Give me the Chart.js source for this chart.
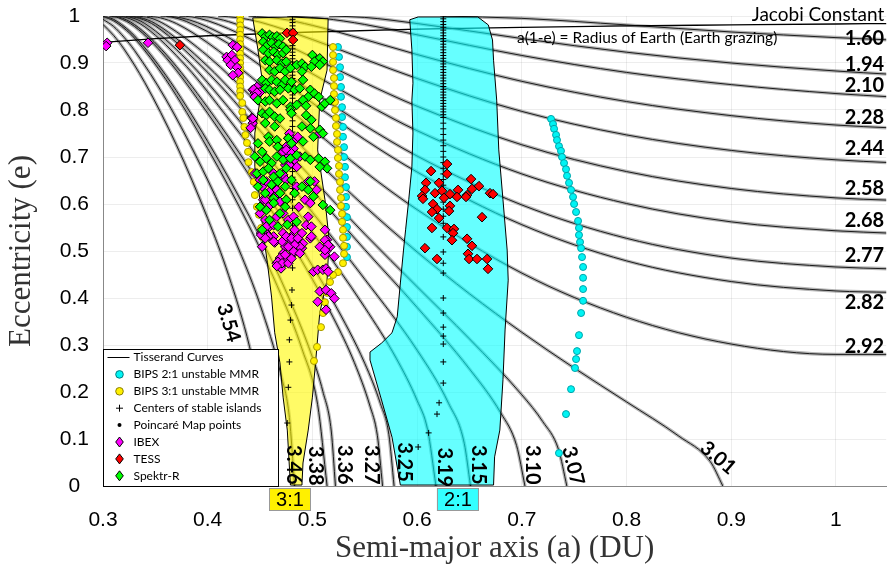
<!DOCTYPE html>
<html>
<head>
<meta charset="utf-8">
<script src="https://cdn.jsdelivr.net/npm/chart.js@4.4.1/dist/chart.umd.min.js"></script>
<style>
  html, body { margin: 0; padding: 0; background: #fff; }
  #wrap { width: 892px; height: 569px; }
</style>
</head>
<body>
<div id="wrap"><canvas id="chart" width="892" height="569"></canvas></div>
<script>
// Tisserand curves, [semi-major axis, eccentricity]
const jacobiValues = ["1.60", "1.94", "2.10", "2.28", "2.44", "2.58", "2.68", "2.77", "2.82", "2.92",
  "3.01", "3.07", "3.10", "3.15", "3.19", "3.25", "3.27", "3.36", "3.38", "3.46", "3.54"];

const curve160 = [[0.625,1],[0.7,0.995],[0.8,0.981],[0.9,0.966],[1.0,0.954],[1.052,0.949]];
const curve194 = [[0.516,1],[0.55,0.997],[0.6,0.984],[0.7,0.952],[0.8,0.923],[0.9,0.900],[1.0,0.883],[1.052,0.876]];
const curve210 = [[0.476,1],[0.51,0.995],[0.55,0.982],[0.6,0.960],[0.7,0.916],[0.8,0.880],[0.9,0.854],[1.0,0.835],[1.052,0.828]];
const curve228 = [[0.439,1],[0.47,0.994],[0.5,0.980],[0.55,0.950],[0.6,0.918],[0.7,0.861],[0.8,0.818],[0.9,0.788],[1.0,0.768],[1.052,0.762]];
const curve244 = [[0.410,1],[0.43,0.996],[0.45,0.987],[0.5,0.950],[0.55,0.908],[0.6,0.867],[0.7,0.797],[0.8,0.747],[0.9,0.714],[1.0,0.694],[1.052,0.688]];
const curve258 = [[0.388,1],[0.4,0.998],[0.42,0.988],[0.46,0.954],[0.5,0.912],[0.55,0.858],[0.6,0.808],[0.7,0.726],[0.8,0.669],[0.9,0.633],[1.0,0.613],[1.052,0.608]];
const curve268 = [[0.373,1],[0.385,0.998],[0.4,0.990],[0.44,0.952],[0.5,0.877],[0.55,0.814],[0.6,0.756],[0.7,0.664],[0.8,0.601],[0.9,0.562],[1.0,0.543],[1.052,0.538]];
const curve277 = [[0.361,1],[0.375,0.996],[0.39,0.986],[0.42,0.954],[0.46,0.898],[0.5,0.839],[0.55,0.767],[0.6,0.702],[0.7,0.598],[0.8,0.527],[0.9,0.485],[1.0,0.466],[1.052,0.462]];
const curve282 = [[0.355,1],[0.365,0.998],[0.38,0.988],[0.42,0.941],[0.46,0.879],[0.5,0.815],[0.55,0.737],[0.6,0.668],[0.7,0.556],[0.8,0.479],[0.9,0.435],[1.0,0.415],[1.052,0.412]];
const curve292 = [[0.342,1],[0.355,0.996],[0.37,0.984],[0.4,0.943],[0.44,0.873],[0.5,0.760],[0.55,0.669],[0.6,0.588],[0.7,0.453],[0.8,0.359],[0.9,0.302],[1.0,0.280],[1.052,0.280]];
const curve301 = [[0.332,1],[0.345,0.996],[0.36,0.981],[0.4,0.915],[0.45,0.810],[0.5,0.700],[0.55,0.595],[0.6,0.498],[0.65,0.409],[0.7,0.327],[0.75,0.251],[0.8,0.179],[0.85,0.106],[0.88,0.052],[0.892,0]];
const curve307 = [[0.326,1],[0.335,0.997],[0.35,0.984],[0.4,0.893],[0.45,0.775],[0.5,0.654],[0.55,0.536],[0.6,0.424],[0.65,0.313],[0.7,0.194],[0.72,0.137],[0.735,0.078],[0.743,0]];
const curve310 = [[0.323,1],[0.335,0.995],[0.35,0.979],[0.4,0.880],[0.45,0.756],[0.5,0.629],[0.55,0.503],[0.6,0.380],[0.65,0.249],[0.68,0.155],[0.695,0.086],[0.703,0]];
const curve315 = [[0.318,1],[0.325,0.998],[0.34,0.984],[0.38,0.907],[0.42,0.805],[0.46,0.694],[0.5,0.582],[0.55,0.440],[0.6,0.289],[0.63,0.176],[0.645,0.091],[0.651,0]];
const curve319 = [[0.314,1],[0.322,0.997],[0.34,0.977],[0.38,0.892],[0.42,0.781],[0.46,0.663],[0.5,0.540],[0.55,0.380],[0.58,0.272],[0.6,0.182],[0.61,0.120],[0.618,0]];
const curve325 = [[0.308,1],[0.315,0.998],[0.33,0.982],[0.36,0.919],[0.4,0.805],[0.44,0.676],[0.48,0.540],[0.52,0.392],[0.55,0.261],[0.565,0.175],[0.573,0.110],[0.578,0]];
const curve327 = [[0.306,1],[0.315,0.996],[0.33,0.978],[0.36,0.912],[0.4,0.793],[0.44,0.660],[0.48,0.516],[0.52,0.358],[0.54,0.263],[0.555,0.170],[0.562,0.108],[0.567,0]];
const curve336 = [[0.3,1.0],[0.31,0.993],[0.32,0.978],[0.33,0.958],[0.36,0.874],[0.4,0.733],[0.44,0.573],[0.47,0.438],[0.5,0.274],[0.51,0.201],[0.518,0.117],[0.522,0]];
const curve338 = [[0.3,0.999],[0.31,0.990],[0.32,0.974],[0.33,0.953],[0.36,0.865],[0.4,0.718],[0.44,0.551],[0.47,0.407],[0.49,0.292],[0.505,0.173],[0.514,0]];
const curve346 = [[0.3,0.993],[0.31,0.978],[0.32,0.955],[0.33,0.927],[0.36,0.823],[0.4,0.651],[0.43,0.502],[0.45,0.386],[0.47,0.236],[0.478,0.146],[0.483,0]];
const curve354 = [[0.3,0.982],[0.31,0.959],[0.32,0.930],[0.34,0.858],[0.37,0.726],[0.4,0.569],[0.42,0.448],[0.44,0.296],[0.45,0.188],[0.457,0]];

const tisserandCurves = [curve160, curve194, curve210, curve228, curve244, curve258, curve268, curve277, curve282, curve292,
  curve301, curve307, curve310, curve315, curve319, curve325, curve327, curve336, curve338, curve346, curve354];

const earthGrazing = [[0.3,0.944],[0.35,0.952],[0.4,0.958],[0.5,0.966],[0.6,0.972],[0.7,0.976],[0.8,0.979],[0.9,0.981],[1.0,0.983],[1.052,0.984]];

// resonance regions (outline)
const region31 = [[0.443,0.996],[0.479,0.998],[0.515,0.994],[0.514,0.885],[0.507,0.821],[0.505,0.715],[0.512,0.609],[0.516,0.523],
  [0.514,0.438],[0.507,0.368],[0.503,0.262],[0.500,0.189],[0.496,0.119],[0.491,0.049],[0.490,0.002],[0.479,0.002],[0.476,0.119],
  [0.472,0.189],[0.469,0.262],[0.464,0.326],[0.461,0.402],[0.457,0.475],[0.453,0.538],[0.450,0.609],[0.445,0.679],[0.445,0.751],
  [0.450,0.821],[0.453,0.849],[0.448,0.928],[0.443,0.996]];
const region21 = [[0.593,0.992],[0.601,0.998],[0.658,0.998],[0.668,0.981],[0.672,0.949],[0.673,0.906],[0.676,0.821],[0.678,0.715],
  [0.682,0.609],[0.686,0.502],[0.687,0.438],[0.684,0.332],[0.682,0.226],[0.679,0.119],[0.674,0.062],[0.673,0.002],[0.584,0.002],
  [0.576,0.104],[0.566,0.183],[0.555,0.268],[0.555,0.285],[0.566,0.304],[0.576,0.326],[0.581,0.360],[0.584,0.432],[0.587,0.502],
  [0.589,0.545],[0.592,0.609],[0.595,0.679],[0.596,0.751],[0.595,0.821],[0.596,0.857],[0.595,0.928],[0.593,0.992]];

// centers of stable islands
const islands31 = [[0.481,1.000],[0.481,0.993],[0.481,0.986],[0.481,0.979],[0.481,0.972],[0.481,0.965],[0.481,0.958],[0.481,0.951],
  [0.481,0.944],[0.481,0.937],[0.481,0.930],[0.481,0.923],[0.481,0.916],[0.481,0.909],[0.481,0.902],[0.481,0.895],[0.481,0.888],
  [0.481,0.881],[0.481,0.874],[0.481,0.867],[0.481,0.860],[0.481,0.853],[0.481,0.846],[0.481,0.839],[0.481,0.832],[0.481,0.825],
  [0.481,0.813],[0.481,0.801],[0.481,0.789],[0.481,0.777],[0.481,0.765],[0.481,0.753],[0.481,0.741],[0.481,0.729],[0.481,0.717],
  [0.481,0.705],[0.481,0.693],[0.481,0.681],[0.481,0.669],[0.481,0.657],[0.481,0.645],[0.481,0.633],[0.481,0.621],[0.481,0.609],
  [0.481,0.591],[0.481,0.573],[0.481,0.555],[0.481,0.537],[0.481,0.519],[0.481,0.501],[0.481,0.464],[0.4805,0.417],[0.480,0.385],
  [0.479,0.353],[0.478,0.311],[0.478,0.264],[0.477,0.210],[0.476,0.134]];
const islands21 = [[0.625,1.000],[0.625,0.994],[0.625,0.988],[0.625,0.982],[0.625,0.976],[0.625,0.970],[0.625,0.964],[0.625,0.958],
  [0.625,0.952],[0.625,0.946],[0.625,0.940],[0.625,0.934],[0.625,0.928],[0.625,0.922],[0.625,0.916],[0.625,0.910],[0.625,0.904],
  [0.625,0.898],[0.625,0.892],[0.625,0.886],[0.625,0.880],[0.625,0.874],[0.625,0.868],[0.625,0.862],[0.625,0.856],[0.625,0.850],
  [0.625,0.844],[0.625,0.838],[0.625,0.832],[0.625,0.826],[0.625,0.820],[0.625,0.814],[0.625,0.808],[0.625,0.802],[0.625,0.796],
  [0.625,0.790],[0.625,0.784],[0.625,0.772],[0.625,0.760],[0.625,0.748],[0.625,0.736],[0.625,0.724],[0.625,0.712],[0.625,0.700],
  [0.625,0.688],[0.625,0.676],[0.625,0.664],[0.625,0.652],[0.625,0.640],[0.625,0.628],[0.625,0.616],[0.625,0.604],[0.625,0.589],
  [0.625,0.574],[0.625,0.559],[0.625,0.530],[0.625,0.498],[0.625,0.474],[0.625,0.453],[0.625,0.400],[0.625,0.368],[0.625,0.338],
  [0.625,0.319],[0.625,0.302],[0.625,0.264],[0.625,0.219],[0.621,0.177],[0.619,0.153],[0.611,0.113],[0.601,0.083]];

// BIPS unstable MMR orbits
const bips21 = [[0.5244,0.934],[0.5254,0.913],[0.5264,0.891],[0.5264,0.870],[0.5273,0.849],[0.5273,0.828],[0.5283,0.806],
  [0.5283,0.785],[0.5292,0.764],[0.5292,0.743],[0.5302,0.721],[0.5302,0.700],[0.5311,0.679],[0.5311,0.657],[0.5321,0.636],
  [0.5321,0.615],[0.5321,0.594],[0.533,0.572],[0.533,0.551],[0.533,0.530],[0.533,0.509],[0.533,0.487],
  [0.7279,0.781],[0.7298,0.770],[0.7308,0.760],[0.7327,0.747],[0.7336,0.736],[0.7355,0.723],[0.7374,0.713],[0.7384,0.700],
  [0.7403,0.687],[0.7422,0.674],[0.7432,0.660],[0.7451,0.645],[0.747,0.630],[0.7489,0.615],[0.7499,0.600],[0.7518,0.583],
  [0.7537,0.564],[0.7546,0.549],[0.7546,0.534],[0.7556,0.519],[0.7566,0.506],[0.7575,0.487],[0.7585,0.466],[0.7585,0.443],
  [0.7585,0.419],[0.7585,0.394],[0.7566,0.368],[0.7546,0.321],[0.7527,0.287],[0.7518,0.270],[0.7508,0.251],[0.747,0.206],
  [0.7422,0.153],[0.7355,0.070]];
const bips31 = [[0.431,1.000],[0.431,0.990],[0.431,0.980],[0.431,0.970],[0.431,0.960],[0.431,0.950],[0.431,0.940],[0.431,0.930],
  [0.431,0.920],[0.431,0.910],[0.431,0.900],[0.431,0.890],[0.431,0.880],[0.431,0.870],[0.431,0.860],[0.431,0.850],[0.431,0.840],
  [0.431,0.830],[0.433,0.815],[0.433,0.796],[0.434,0.783],[0.435,0.764],[0.436,0.747],[0.4375,0.730],[0.4385,0.711],[0.439,0.689],
  [0.442,0.668],[0.444,0.647],[0.445,0.619],[0.447,0.594],[0.449,0.577],[0.451,0.549],[0.452,0.530],
  [0.5197,0.934],[0.5197,0.917],[0.5197,0.902],[0.5197,0.885],[0.5206,0.868],[0.5206,0.851],[0.5206,0.834],[0.5216,0.817],
  [0.5216,0.800],[0.5225,0.783],[0.5225,0.766],[0.5235,0.749],[0.5235,0.732],[0.5244,0.715],[0.5244,0.698],[0.5254,0.681],
  [0.5254,0.664],[0.5264,0.647],[0.5264,0.630],[0.5273,0.613],[0.5273,0.596],[0.5283,0.579],[0.5283,0.562],[0.5292,0.545],
  [0.5292,0.528],[0.5302,0.511],[0.5302,0.494],[0.5292,0.474],[0.5244,0.455],[0.5197,0.449],[0.5168,0.434],[0.5139,0.411],
  [0.512,0.391],[0.5101,0.368],[0.5082,0.338],[0.5044,0.296],[0.5015,0.266]];

// mission orbits
const ibex = [[0.304,0.943],[0.303,0.936],[0.343,0.943],
  [0.424,0.938],[0.428,0.934],[0.418,0.913],[0.423,0.917],[0.419,0.906],[0.426,0.906],[0.422,0.896],[0.428,0.891],[0.429,0.879],
  [0.424,0.874],[0.443,0.843],[0.447,0.849],[0.450,0.838],[0.445,0.836],[0.444,0.844],[0.447,0.837],[0.445,0.828],
  [0.442,0.783],[0.443,0.772],[0.441,0.762],[0.443,0.782],
  [0.479,0.743],[0.480,0.733],[0.475,0.722],[0.482,0.718],[0.472,0.711],[0.477,0.701],[0.483,0.694],[0.474,0.683],[0.485,0.679],
  [0.488,0.701],[0.507,0.750],[0.445,0.665],[0.450,0.651],[0.452,0.637],[0.456,0.648],[0.459,0.626],[0.464,0.616],[0.469,0.605],
  [0.453,0.609],[0.450,0.580],[0.455,0.566],[0.459,0.552],[0.466,0.573],[0.472,0.580],[0.477,0.566],[0.482,0.573],[0.487,0.594],
  [0.493,0.609],[0.498,0.602],[0.502,0.648],[0.504,0.630],[0.496,0.573],[0.494,0.555],[0.499,0.552],[0.490,0.538],[0.498,0.527],
  [0.514,0.524],[0.517,0.509],[0.512,0.545],[0.483,0.545],[0.479,0.524],[0.472,0.538],[0.463,0.531],[0.456,0.538],[0.452,0.509],
  [0.474,0.509],[0.507,0.509],[0.490,0.506],[0.485,0.637],[0.496,0.648],
  [0.478,0.750],[0.477,0.740],[0.482,0.733],[0.486,0.743],[0.475,0.715],[0.480,0.708],[0.478,0.683],[0.463,0.665],[0.467,0.655],
  [0.472,0.662],[0.475,0.651],[0.463,0.637],[0.466,0.630],[0.455,0.609],[0.458,0.594],[0.456,0.552],[0.463,0.555],[0.451,0.538],
  [0.455,0.531],[0.480,0.531],[0.485,0.516],[0.472,0.495],[0.469,0.485],[0.474,0.477],[0.466,0.474],[0.470,0.463],[0.482,0.495],
  [0.451,0.534],[0.458,0.531],[0.464,0.518],[0.471,0.520],[0.475,0.531],[0.480,0.527],[0.486,0.527],[0.491,0.516],[0.488,0.509],
  [0.483,0.513],[0.477,0.509],[0.482,0.499],[0.488,0.495],[0.474,0.492],[0.467,0.477],[0.471,0.474],[0.477,0.474],[0.466,0.468],
  [0.480,0.484],[0.499,0.531],[0.512,0.523],[0.515,0.513],[0.513,0.499],[0.512,0.492],[0.521,0.488],[0.501,0.456],[0.505,0.460],
  [0.510,0.460],[0.513,0.463],[0.515,0.456],[0.512,0.502],[0.507,0.414],[0.513,0.417],[0.518,0.410],[0.521,0.399],[0.505,0.392],
  [0.513,0.375],[0.463,0.520],[0.455,0.527]];
const tess = [[0.3735,0.938],[0.4757,0.964],[0.4815,0.964],[0.4815,0.949],
  [0.6286,0.685],[0.6133,0.670],[0.6286,0.664],[0.6085,0.645],[0.6209,0.645],[0.6515,0.653],[0.6591,0.638],[0.6075,0.630],
  [0.6171,0.623],[0.6238,0.628],[0.6314,0.621],[0.6391,0.630],[0.6477,0.619],[0.6524,0.632],[0.6696,0.623],[0.6725,0.621],
  [0.6047,0.617],[0.6056,0.611],[0.6257,0.613],[0.6381,0.615],[0.6467,0.615],[0.6152,0.600],[0.619,0.589],[0.6314,0.596],
  [0.6142,0.583],[0.6305,0.585],[0.6209,0.570],[0.662,0.572],[0.6142,0.549],[0.6286,0.549],[0.6352,0.547],[0.6343,0.538],
  [0.6333,0.523],[0.6477,0.526],[0.6524,0.511],[0.6075,0.506],[0.6486,0.494],[0.6496,0.483],[0.619,0.483],[0.6572,0.483],
  [0.6668,0.483],[0.6677,0.462]];
const spektrR = [[0.452,0.963],[0.455,0.956],[0.459,0.960],[0.462,0.955],[0.466,0.957],[0.469,0.952],[0.453,0.945],[0.457,0.938],
  [0.461,0.943],[0.465,0.935],[0.468,0.940],[0.472,0.935],[0.453,0.928],[0.458,0.921],[0.463,0.924],[0.467,0.917],[0.472,0.921],
  [0.475,0.928],[0.455,0.906],[0.459,0.903],[0.466,0.906],[0.471,0.899],[0.475,0.903],[0.459,0.885],[0.464,0.882],[0.469,0.889],
  [0.474,0.882],[0.479,0.889],[0.485,0.896],[0.490,0.899],[0.493,0.892],[0.500,0.917],[0.507,0.910],[0.510,0.903],[0.502,0.903],
  [0.507,0.896],[0.499,0.892],[0.490,0.882],[0.491,0.864],[0.452,0.864],[0.456,0.857],[0.461,0.864],[0.466,0.860],[0.471,0.853],
  [0.474,0.864],[0.480,0.860],[0.455,0.846],[0.459,0.843],[0.464,0.839],[0.469,0.843],[0.477,0.846],[0.483,0.843],[0.488,0.846],
  [0.498,0.843],[0.502,0.835],[0.506,0.828],[0.496,0.828],[0.491,0.821],[0.448,0.821],[0.455,0.818],[0.459,0.821],[0.466,0.814],
  [0.472,0.821],[0.479,0.807],[0.485,0.811],[0.494,0.809],[0.509,0.807],[0.512,0.814],[0.517,0.821],[0.452,0.793],[0.456,0.789],
  [0.459,0.796],[0.464,0.786],[0.469,0.782],[0.479,0.800],[0.480,0.793],[0.494,0.789],[0.499,0.779],[0.455,0.772],[0.464,0.765],
  [0.448,0.729],[0.452,0.711],[0.458,0.743],[0.459,0.733],[0.466,0.736],[0.467,0.722],[0.477,0.740],[0.480,0.729],[0.491,0.733],
  [0.490,0.765],[0.498,0.761],[0.501,0.743],[0.507,0.758],[0.510,0.750],[0.445,0.701],[0.450,0.690],[0.456,0.697],[0.461,0.687],
  [0.466,0.701],[0.472,0.694],[0.479,0.697],[0.485,0.704],[0.493,0.701],[0.498,0.694],[0.506,0.697],[0.512,0.690],[0.514,0.676],
  [0.447,0.665],[0.453,0.669],[0.458,0.676],[0.463,0.658],[0.469,0.665],[0.475,0.676],[0.453,0.651],[0.448,0.637],[0.461,0.641],
  [0.467,0.648],[0.474,0.637],[0.480,0.651],[0.455,0.623],[0.463,0.612],[0.469,0.623],[0.475,0.609],[0.483,0.623],[0.490,0.637],
  [0.496,0.630],[0.501,0.616],[0.498,0.648],[0.507,0.679],[0.510,0.598],[0.517,0.587],[0.450,0.594],[0.456,0.587],[0.463,0.602],
  [0.469,0.580],[0.474,0.594],[0.459,0.566],[0.467,0.552],[0.452,0.545],[0.476,0.556],[0.485,0.562]];

// axis tick labels
const xTickLabels = ["0.3", "0.4", "0.5", "0.6", "0.7", "0.8", "0.9", "1"];
const yTickLabels = ["0", "0.1", "0.2", "0.3", "0.4", "0.5", "0.6", "0.7", "0.8", "0.9", "1"];

// curve labels: right-hand Jacobi constants and rotated labels near e = 0
const rightLabelText = ["1.60", "1.94", "2.10", "2.28", "2.44", "2.58", "2.68", "2.77", "2.82", "2.92"];
const rightLabelE = [0.953, 0.896, 0.851, 0.785, 0.719, 0.632, 0.564, 0.491, 0.391, 0.296];
const bottomLabelText = ["3.54", "3.46", "3.38", "3.36", "3.27", "3.25", "3.19", "3.15", "3.10", "3.07", "3.01"];
const bottomLabelA = [0.420, 0.4815, 0.5025, 0.531, 0.556, 0.5875, 0.6257, 0.6582, 0.7097, 0.7489, 0.8874];
const bottomLabelE = [0.347, 0.045, 0.043, 0.045, 0.045, 0.051, 0.040, 0.045, 0.045, 0.043, 0.060];
const bottomLabelAngle = [73, 90, 90, 90, 90, 90, 90, 90, 90, 76, 40];

const YELLOW = "#fff000";
const CYAN = "#00f4f4";
const X_MAX = 1.048;

const toXY = (pts) => pts.map(([a, e]) => ({ x: a, y: e }));

function markerSet(pts, style, radius, fill, edge, order) {
  return {
    data: toXY(pts),
    showLine: false,
    pointStyle: style,
    pointRadius: radius,
    pointBackgroundColor: fill,
    pointBorderColor: edge,
    pointBorderWidth: 1,
    order,
  };
}

const datasets = [];

tisserandCurves.forEach((c) => {
  // Poincaré map band around each curve
  datasets.push({
    data: toXY(c),
    borderColor: "rgba(70,70,70,0.4)",
    borderWidth: 3.5,
    pointRadius: 0,
    cubicInterpolationMode: "monotone",
    fill: false,
    order: 50,
  });
  datasets.push({
    data: toXY(c),
    borderColor: "#1c1c1c",
    borderWidth: 1,
    pointRadius: 0,
    cubicInterpolationMode: "monotone",
    fill: false,
    order: 40,
  });
});

datasets.push({
  data: toXY(earthGrazing),
  borderColor: "#000",
  borderWidth: 1.3,
  pointRadius: 0,
  cubicInterpolationMode: "monotone",
  fill: false,
  order: 35,
});

datasets.push({
  data: toXY(region31),
  borderColor: "#000",
  borderWidth: 1,
  backgroundColor: "rgba(255,248,0,0.6)",
  fill: "shape",
  pointRadius: 0,
  order: 30,
});
datasets.push({
  data: toXY(region21),
  borderColor: "#000",
  borderWidth: 1,
  backgroundColor: "rgba(0,255,255,0.6)",
  fill: "shape",
  pointRadius: 0,
  order: 30,
});

datasets.push(markerSet(bips21, "circle", 3.5, CYAN, "#00a4aa", 9));
datasets.push(markerSet(bips31, "circle", 3.5, YELLOW, "#a89a00", 8));
datasets.push(markerSet(islands31, "cross", 3, "#000", "#000", 7));
datasets.push(markerSet(islands21, "cross", 3, "#000", "#000", 7));
datasets.push(markerSet(ibex, "rectRot", 4.8, "#ff00ff", "#000", 3));
datasets.push(markerSet(tess, "rectRot", 4.8, "#ff0000", "#000", 2));
datasets.push(markerSet(spektrR, "rectRot", 4.8, "#00ff00", "#000", 1));

function drawSymbol(ctx, kind, x, y, fill, edge) {
  ctx.save();
  ctx.fillStyle = fill;
  ctx.strokeStyle = edge;
  ctx.lineWidth = 1;
  ctx.beginPath();
  if (kind === "line") {
    ctx.moveTo(x - 12, y);
    ctx.lineTo(x + 10, y);
    ctx.stroke();
  } else if (kind === "circle") {
    ctx.arc(x, y, 3.8, 0, Math.PI * 2);
    ctx.fill();
    ctx.stroke();
  } else if (kind === "cross") {
    ctx.moveTo(x - 3.5, y);
    ctx.lineTo(x + 3.5, y);
    ctx.moveTo(x, y - 3.5);
    ctx.lineTo(x, y + 3.5);
    ctx.stroke();
  } else if (kind === "dot") {
    ctx.arc(x, y, 2, 0, Math.PI * 2);
    ctx.fill();
  } else if (kind === "diamond") {
    ctx.moveTo(x, y - 5);
    ctx.lineTo(x + 3.8, y);
    ctx.lineTo(x, y + 5);
    ctx.lineTo(x - 3.8, y);
    ctx.closePath();
    ctx.fill();
    ctx.stroke();
  }
  ctx.restore();
}

const legendRows = [
  ["Tisserand Curves", "line", "#000", "#000"],
  ["BIPS 2:1 unstable MMR", "circle", CYAN, "#007c80"],
  ["BIPS 3:1 unstable MMR", "circle", YELLOW, "#8a7e00"],
  ["Centers of stable islands", "cross", "#000", "#000"],
  ["Poincaré Map points", "dot", "#000", "#000"],
  ["IBEX", "diamond", "#ff00ff", "#000"],
  ["TESS", "diamond", "#ff0000", "#000"],
  ["Spektr-R", "diamond", "#00ff00", "#000"],
];

const annotationPlugin = {
  id: "annotations",
  afterDatasetsDraw(chart) {
    const { ctx, scales, chartArea } = chart;
    const xs = scales.x;
    const ys = scales.y;
    const rightX = chartArea.right - 2;
    ctx.save();
    ctx.fillStyle = "#000";

    ctx.font = "bold 20px Lato";
    ctx.textAlign = "right";
    ctx.textBaseline = "middle";
    rightLabelText.forEach((t, i) => {
      ctx.fillText(t, rightX, ys.getPixelForValue(rightLabelE[i]));
    });

    ctx.textAlign = "center";
    bottomLabelText.forEach((t, i) => {
      ctx.save();
      ctx.translate(xs.getPixelForValue(bottomLabelA[i]), ys.getPixelForValue(bottomLabelE[i]));
      ctx.rotate((bottomLabelAngle[i] * Math.PI) / 180);
      ctx.fillText(t, 0, 0);
      ctx.restore();
    });

    ctx.font = "19px Lato";
    ctx.textAlign = "right";
    ctx.fillText("Jacobi Constant", rightX, ys.getPixelForValue(1.003));
    ctx.font = "15.5px Lato";
    ctx.textAlign = "left";
    ctx.fillText("a(1-e) = Radius of Earth (Earth grazing)", xs.getPixelForValue(0.6954), ys.getPixelForValue(0.953));

    // resonance tags under the axis
    const tags = [["3:1", 0.4786, YELLOW], ["2:1", 0.639, "#33ffff"]];
    ctx.font = "20px 'Liberation Sans'";
    ctx.textAlign = "center";
    tags.forEach(([t, a, color]) => {
      const cx = xs.getPixelForValue(a);
      const top = chartArea.bottom + 2;
      ctx.fillStyle = color;
      ctx.fillRect(cx - 21, top, 42, 23);
      ctx.strokeStyle = "#999";
      ctx.lineWidth = 1;
      ctx.strokeRect(cx - 20.5, top + 0.5, 41, 22);
      ctx.fillStyle = "#000";
      ctx.fillText(t, cx, top + 12.5);
    });
    ctx.restore();
  },
  afterDraw(chart) {
    const { ctx, chartArea } = chart;
    const left = chartArea.left + 0.5;
    const top = chartArea.bottom - 137 + 0.5;
    ctx.save();
    ctx.fillStyle = "#fff";
    ctx.fillRect(left, top, 175, 137);
    ctx.strokeStyle = "#000";
    ctx.lineWidth = 1;
    ctx.strokeRect(left, top, 175, 137);
    ctx.font = "12px Lato";
    ctx.textAlign = "left";
    ctx.textBaseline = "middle";
    legendRows.forEach(([label, kind, fill, edge], i) => {
      const y = top + 8 + i * 16.9;
      drawSymbol(ctx, kind, left + 16, y, fill, edge);
      ctx.fillStyle = "#000";
      ctx.fillText(label, left + 30, y);
    });
    ctx.restore();
  },
};

const gridStyle = { color: "rgba(0,0,0,0.07)", drawTicks: false };

new Chart(document.getElementById("chart"), {
  type: "line",
  data: { datasets },
  options: {
    responsive: false,
    animation: false,
    devicePixelRatio: 1,
    events: [],
    layout: { padding: { top: 16, right: 0, left: 0, bottom: 0 } },
    plugins: { legend: { display: false }, tooltip: { enabled: false } },
    scales: {
      x: {
        type: "linear",
        min: 0.3,
        max: X_MAX,
        grid: gridStyle,
        border: { color: "#888", width: 1 },
        ticks: {
          stepSize: 0.1,
          includeBounds: false,
          autoSkip: false,
          maxRotation: 0,
          padding: 22,
          color: "#000",
          font: { family: "'Liberation Sans', Arial", size: 21 },
          callback: (v) => xTickLabels[Math.round((v - 0.3) * 10)] ?? "",
        },
        title: {
          display: true,
          text: "Semi-major axis (a) (DU)",
          color: "#333",
          font: { family: "'Liberation Serif', serif", size: 31 },
          padding: { top: 0, bottom: 2 },
        },
        afterFit: (scale) => {
          scale.height = 83;
          scale.paddingLeft = 0;
          scale.paddingRight = 0;
        },
      },
      y: {
        type: "linear",
        min: 0,
        max: 1,
        grid: gridStyle,
        border: { color: "#888", width: 1 },
        ticks: {
          stepSize: 0.1,
          autoSkip: false,
          padding: 14,
          crossAlign: "center",
          color: "#000",
          font: { family: "'Liberation Sans', Arial", size: 21 },
          callback: (v) => yTickLabels[Math.round(v * 10)] ?? "",
        },
        title: {
          display: true,
          text: "Eccentricity (e)",
          color: "#333",
          font: { family: "'Liberation Serif', serif", size: 31 },
          padding: { top: 3, bottom: 0 },
        },
        afterFit: (scale) => {
          scale.width = 103;
          scale.paddingTop = 0;
          scale.paddingBottom = 0;
        },
      },
    },
  },
  plugins: [annotationPlugin],
});
</script>
</body>
</html>
